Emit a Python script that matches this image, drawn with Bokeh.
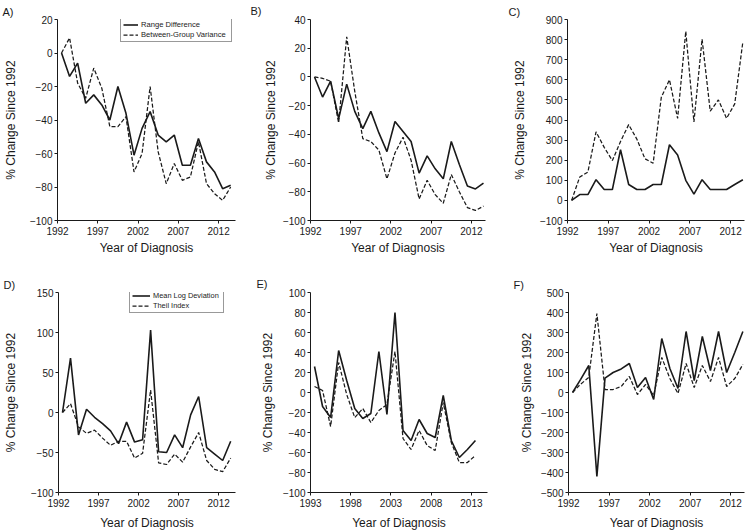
import numpy as np
from bokeh.plotting import figure
from bokeh.models import (Range1d, FixedTicker, CustomJSTickFormatter,
                          Legend, LegendItem)
from bokeh.layouts import row, column
from bokeh.embed import file_html
from bokeh.resources import INLINE

# ---------------- data ----------------
years = list(range(1992, 2014))          # panels A, B, C, D, F
years_e = list(range(1993, 2014))        # panel E

# A) Range Difference / Between-Group Variance
a_range_diff = [0, -14, -6, -30, -25, -31, -40, -20, -36, -61, -45, -35, -49, -53,
                -49, -67, -67, -51, -65, -71, -81, -79]
a_between_var = [0, 9, -18, -27, -9, -21, -44, -44, -38, -71, -60, -20, -59, -78,
                 -66, -76, -74, -53, -78, -84, -88, -80]

# B)
b_solid = [0, -14, -3, -29, -5, -24, -36, -24, -39, -52, -31, -38, -45, -67,
           -55, -64, -71, -45, -61, -76, -78, -74]
b_dashed = [0, -1, -3, -32, 28, -10, -43, -45, -51, -71, -53, -42, -58, -85,
            -72, -82, -88, -68, -80, -91, -93, -90]

# C)
c_solid = [0, 29, 29, 103, 54, 54, 252, 79, 54, 54, 79, 79, 277, 226,
           100, 31, 103, 54, 54, 54, 79, 103]
c_dashed = [0, 116, 141, 341, 264, 198, 293, 377, 305, 207, 185, 513, 600, 408,
            841, 390, 802, 444, 500, 408, 480, 789]

# D) Mean Log Deviation / Theil Index
d_mld = [0, 68, -28, 4, -6, -14, -23, -39, -12, -37, -34, 103, -49, -50,
         -28, -44, -3, 20, -44, -52, -60, -36]
d_theil = [0, 11, -18, -26, -22, -32, -41, -36, -36, -57, -51, 28, -63, -65,
           -52, -62, -43, -25, -60, -71, -74, -57]

# E)
e_solid = [26, -14, -25, 42, 12, -16, -26, -21, 41, -22, 80, -38, -48, -27,
           -41, -45, -3, -48, -65, -57, -48]
e_dashed = [6, 2, -34, 30, -2, -25, -16, -30, -18, -12, 41, -46, -57, -38,
            -53, -58, -10, -50, -70, -70, -63]

# F)
f_solid = [0, 66, 135, -420, 72, 100, 118, 145, 25, 75, -35, 270, 120, 20,
           305, 60, 280, 110, 305, 100, 200, 305]
f_dashed = [0, 42, 75, 395, 15, 15, 30, 80, -10, 40, -15, 175, 70, -5,
            145, 25, 135, 55, 175, 30, 70, 140]

x_ticks = [1992, 1997, 2002, 2007, 2012]
x_ticks_e = [1993, 1998, 2003, 2008, 2013]

FONT = "Liberation Sans"
INK = "#1a1a1a"


def panel(letter, yrs, solid, dashed, yr, ystep, xr, xticks, w, h, bl, br, bt, bb,
          ystand, xstand, title_off, title_standoff, legend=None):
    p = figure(width=w, height=h, output_backend="svg", toolbar_location=None,
               tools="", x_range=Range1d(*xr), y_range=Range1d(*yr),
               min_border_left=bl, min_border_right=br, min_border_top=bt,
               min_border_bottom=bb)
    p.outline_line_color = None
    p.grid.visible = False
    p.background_fill_color = "white"
    p.border_fill_color = "white"

    p.title.text = letter + ")"
    p.title.align = "left"
    p.title.offset = title_off
    p.title.standoff = title_standoff
    p.title.text_font = FONT
    p.title.text_font_size = "11px"
    p.title.text_font_style = "normal"
    p.title.text_color = INK

    xs = np.array(yrs) + 0.5
    r1 = p.line(xs, solid, line_color=INK, line_width=1.6)
    r2 = p.line(xs, dashed, line_color=INK, line_width=1.25, line_dash="4 2")

    p.xaxis.ticker = FixedTicker(ticks=xticks)
    p.yaxis.ticker = FixedTicker(ticks=list(range(yr[0], yr[1] + 1, ystep)))
    p.yaxis.formatter = CustomJSTickFormatter(
        code="return tick < 0 ? '\u2212' + Math.abs(tick) : String(tick);")
    p.xaxis.axis_label = "Year of Diagnosis"
    p.yaxis.axis_label = "% Change Since 1992"
    for ax in (p.xaxis, p.yaxis):
        ax.axis_label_text_font = FONT
        ax.axis_label_text_font_style = "normal"
        ax.axis_label_text_font_size = "12px"
        ax.axis_label_text_color = INK
        ax.major_label_text_font = FONT
        ax.major_label_text_font_size = "10px"
        ax.major_label_text_color = INK
        ax.axis_line_color = INK
        ax.major_tick_line_color = INK
        ax.major_tick_out = 3
        ax.major_tick_in = 0
        ax.minor_tick_out = 0
        ax.minor_tick_in = 0
    p.xaxis.major_label_standoff = 3
    p.xaxis.axis_label_standoff = xstand
    p.yaxis.major_label_standoff = 2
    p.yaxis.axis_label_standoff = ystand

    if legend is not None:
        names, lpos, fsize, gw, lw, lh = legend
        lg = Legend(items=[LegendItem(label=names[0], renderers=[r1]),
                           LegendItem(label=names[1], renderers=[r2])],
                    location=lpos)
        lg.label_text_font = FONT
        lg.label_text_font_size = fsize
        lg.label_text_color = INK
        lg.label_height = lh
        lg.glyph_height = lh
        lg.glyph_width = gw
        lg.label_width = lw
        lg.label_standoff = 3
        lg.padding = 2
        lg.spacing = 1
        lg.margin = 0
        lg.border_line_color = "#333333"
        lg.border_line_width = 0.8
        lg.background_fill_color = "white"
        lg.background_fill_alpha = 1.0
        p.add_layout(lg)
    return p


# row 1 (page y 0..266)
pa = panel("A", years, a_range_diff, a_between_var, (-100, 20), 20, (1992, 2014.1),
           x_ticks, 248, 266, 57, 13, 18, 45, 9, 3, -55, 4,
           legend=(["Range Difference", "Between-Group Variance"], (63, 178),
                   "7.6px", 15, 88, 9))
pb = panel("B", years, b_solid, b_dashed, (-100, 40), 20, (1992, 2013.75),
           x_ticks, 248, 266, 62, 11, 18, 46, 2, 3, -60, 5)
pc = panel("C", years, c_solid, c_dashed, (-100, 900), 100, (1992, 2013.7),
           x_ticks, 250, 266, 71, 2, 17, 46, 10, 3, -59, 4)

# row 2 (page y 266..532)
pd_ = panel("D", years, d_mld, d_theil, (-100, 150), 50, (1992, 2014.1),
            x_ticks, 248, 266, 57, 13, 25, 38, 10, 6, -55, 3,
            legend=(["Mean Log Deviation", "Theil Index"], (71, 179),
                    "7.4px", 18, 68, 9))
pe = panel("E", years_e, e_solid, e_dashed, (-100, 100), 20, (1993, 2015),
           x_ticks_e, 248, 266, 62, 9, 26, 38, 5, 6, -54, 6)
pf = panel("F", years, f_solid, f_dashed, (-500, 500), 100, (1992, 2013.7),
           x_ticks, 250, 266, 72, 2, 25, 37, 4, 6, -55, 3)

layout = column(row(pa, pb, pc), row(pd_, pe, pf))

open("out.html", "w").write(file_html(layout, INLINE))
